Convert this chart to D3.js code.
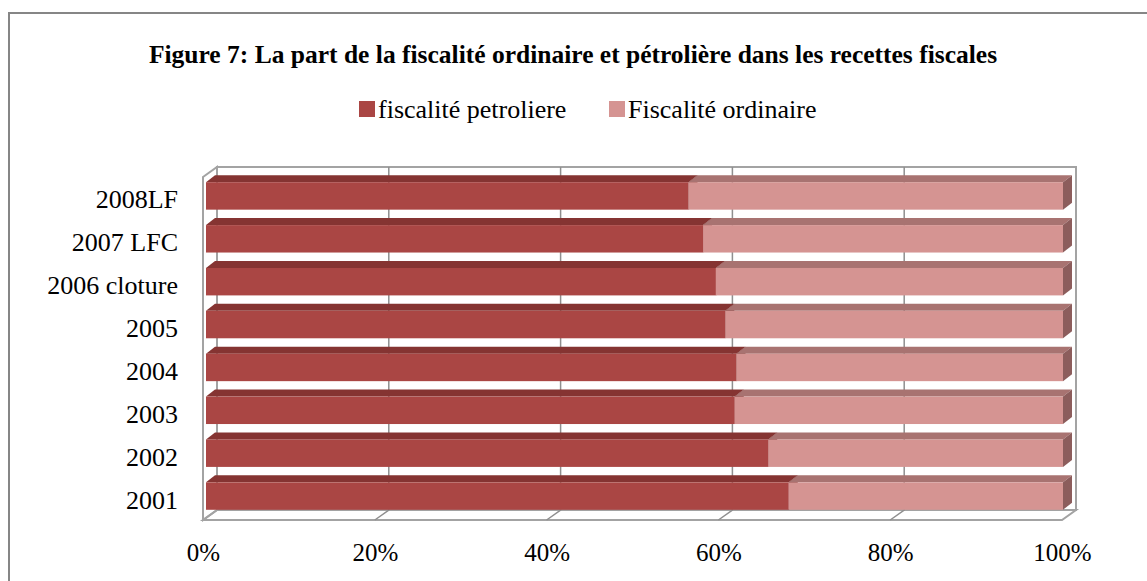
<!DOCTYPE html>
<html>
<head>
<meta charset="utf-8">
<script src="https://cdn.jsdelivr.net/npm/d3@7"></script>
<style>
  body { margin: 0; background: #fff; }
  text { font-family: "Liberation Serif", "Times New Roman", serif; fill: #000; }
</style>
</head>
<body>
<script>
var categories = ["2001", "2002", "2003", "2004", "2005", "2006 cloture", "2007 LFC", "2008LF"];
var petroliere = [68.0, 65.6, 61.7, 61.9, 60.6, 59.5, 58.0, 56.3];
var ordinaire  = [32.0, 34.4, 38.3, 38.1, 39.4, 40.5, 42.0, 43.7];
var seriesNames = ["fiscalité petroliere", "Fiscalité ordinaire"];
var tickValues = [0, 0.2, 0.4, 0.6, 0.8, 1];

var width = 1147, height = 581;

var colors = {
  front: ["#aa4644", "#d59492"],
  top:   ["#853432", "#a87371"],
  side:  ["#6e2a28", "#8c5d5c"]
};

var svg = d3.select("body").append("svg")
  .attr("width", width)
  .attr("height", height);

// outer frame
svg.append("rect")
  .attr("x", 9).attr("y", 13)
  .attr("width", 1150).attr("height", 600)
  .attr("fill", "none")
  .attr("stroke", "#868686")
  .attr("stroke-width", 2);

svg.append("text")
  .attr("x", 573).attr("y", 63)
  .attr("text-anchor", "middle")
  .style("font-weight", "bold")
  .style("font-size", "25.5px")
  .text("Figure 7: La part de la fiscalité ordinaire et pétrolière dans les recettes fiscales");

// 3d geometry
var wallDx = 14, wallDy = -10;     // depth of the walls
var offDy = -2.5;                   // bar front plane from front plane
var barDx = 9, barDy = -7;          // bar depth

var xFront = d3.scaleLinear().domain([0, 1]).range([203, 1062]);
var xBar = d3.scaleLinear().domain([0, 1]).range([206, 1063]);
var yScale = d3.scaleBand()
  .domain(categories)
  .range([520, 177])
  .paddingInner(0.36)
  .paddingOuter(0.18);

var top0 = 177, bot0 = 520;

function pts(a) { return a.map(function (p) { return p.join(","); }).join(" "); }

var wall = svg.append("g")
  .attr("fill", "none")
  .attr("stroke", "#a3a3a3")
  .attr("stroke-width", 2);

// back wall
wall.append("rect")
  .attr("x", xFront(0) + wallDx).attr("y", top0 + wallDy)
  .attr("width", xFront(1) - xFront(0)).attr("height", bot0 - top0);
// side wall
wall.append("polygon")
  .attr("points", pts([[xFront(0), top0], [xFront(0) + wallDx, top0 + wallDy],
                       [xFront(0) + wallDx, bot0 + wallDy], [xFront(0), bot0]]));
// floor
wall.append("polygon")
  .attr("points", pts([[xFront(0), bot0], [xFront(1), bot0],
                       [xFront(1) + wallDx, bot0 + wallDy], [xFront(0) + wallDx, bot0 + wallDy]]));

// gridlines
var grid = svg.append("g")
  .attr("fill", "none")
  .attr("stroke", "#8f8f8f")
  .attr("stroke-width", 1.5);
tickValues.slice(1, -1).forEach(function (t) {
  grid.append("polyline")
    .attr("points", pts([[xFront(t), bot0], [xFront(t) + wallDx, bot0 + wallDy],
                         [xFront(t) + wallDx, top0 + wallDy]]));
});

// stacked data (100%)
var table = categories.map(function (c, i) {
  return { cat: c, p: petroliere[i], o: ordinaire[i] };
});
var stack = d3.stack().keys(["p", "o"]).offset(d3.stackOffsetExpand);
var layers = stack(table);

var bars = svg.append("g");
// draw from top category to bottom so lower bars sit in front
var order = categories.slice().reverse();
order.forEach(function (cat) {
  var i = categories.indexOf(cat);
  var y0 = yScale(cat) + offDy;
  var h = yScale.bandwidth();
  layers.forEach(function (layer, k) {
    var d = layer[i];
    var xa = xBar(d[0]), xb = xBar(d[1]);
    var g = bars.append("g");
    g.append("polygon")
      .attr("points", pts([[xa, y0], [xb, y0], [xb + barDx, y0 + barDy], [xa + barDx, y0 + barDy]]))
      .attr("fill", colors.top[k]);
    g.append("polygon")
      .attr("points", pts([[xb, y0], [xb + barDx, y0 + barDy], [xb + barDx, y0 + barDy + h], [xb, y0 + h]]))
      .attr("fill", colors.side[k]);
    g.append("rect")
      .attr("x", xa).attr("y", y0)
      .attr("width", xb - xa).attr("height", h)
      .attr("fill", colors.front[k]);
  });
});

// category labels
svg.append("g")
  .selectAll("text")
  .data(categories)
  .enter()
  .append("text")
  .attr("x", 178)
  .attr("y", function (d) { return yScale(d) + yScale.bandwidth() / 2 + 10; })
  .attr("text-anchor", "end")
  .style("font-size", "26px")
  .text(function (d) { return d; });

// x axis labels
var xAxis = d3.axisBottom(xFront)
  .tickValues(tickValues)
  .tickSize(0)
  .tickPadding(0)
  .tickFormat(d3.format(".0%"));

var ax = svg.append("g")
  .attr("transform", "translate(0," + 544 + ")")
  .call(xAxis);
ax.select(".domain").remove();
ax.selectAll("text")
  .attr("dy", 0)
  .attr("y", 17)
  .style("font-family", "'Liberation Serif', 'Times New Roman', serif")
  .style("font-size", "25px");

// legend
var legend = svg.append("g");
var legendX = [359, 609];
seriesNames.forEach(function (name, k) {
  legend.append("rect")
    .attr("x", legendX[k]).attr("y", 101)
    .attr("width", 16).attr("height", 16)
    .attr("fill", colors.front[k]);
  legend.append("text")
    .attr("x", legendX[k] + 19).attr("y", 118)
    .style("font-size", "26px")
    .text(name);
});
</script>
</body>
</html>
